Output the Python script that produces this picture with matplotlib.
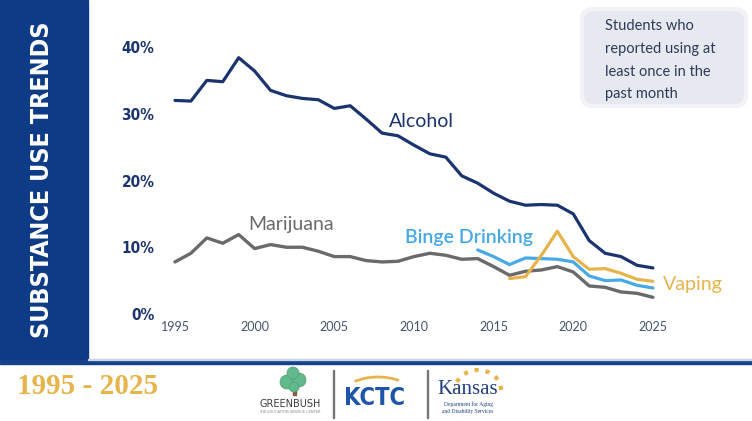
import matplotlib
matplotlib.use('Agg')
import matplotlib.pyplot as plt
from matplotlib import font_manager
from matplotlib.patches import Rectangle, FancyBboxPatch, Circle, Arc

# data (% of students, past-month use)
years = list(range(1995, 2026))
alcohol = [32.0, 31.9, 35.0, 34.8, 38.4, 36.4, 33.5, 32.7, 32.3, 32.1, 30.8,
           31.2, 29.2, 27.1, 26.7, 25.3, 24.0, 23.5, 20.7, 19.6, 18.1, 16.9,
           16.3, 16.4, 16.3, 15.0, 11.0, 9.1, 8.6, 7.3, 6.9]
marijuana = [7.8, 9.1, 11.4, 10.6, 11.9, 9.8, 10.4, 10.0, 10.0, 9.4, 8.6,
             8.6, 8.0, 7.8, 7.9, 8.6, 9.1, 8.8, 8.2, 8.3, 7.1, 5.8,
             6.4, 6.6, 7.1, 6.3, 4.2, 4.0, 3.3, 3.1, 2.5]
binge_years = list(range(2014, 2026))
binge = [9.6, 8.6, 7.4, 8.4, 8.3, 8.2, 7.8, 5.7, 5.0, 5.1, 4.3, 3.9]
vaping_years = list(range(2016, 2026))
vaping = [5.3, 5.6, 8.8, 12.4, 8.6, 6.7, 6.8, 6.1, 5.2, 4.9]

x_ticks = [1995, 2000, 2005, 2010, 2015, 2020, 2025]
y_ticks = [0, 10, 20, 30, 40]

NAVY = '#1b336f'
GRAY = '#6a6a6a'
SKY = '#47a9e6'
GOLD = '#e7b44c'
BAND = '#0d3b85'

names = {f.name for f in font_manager.fontManager.ttflist}
if 'Liberation Sans Narrow' in names:
    cond = dict(family='Liberation Sans Narrow', weight='bold')
    title_size = 21
else:
    cond = dict(family='DejaVu Sans', stretch='condensed', weight='bold')
    title_size = 18
label_font = 'Lato'

W, H = 752, 421
fig = plt.figure(figsize=(W / 100, H / 100), dpi=100)
fig.patch.set_facecolor('white')
T = fig.dpi_scale_trans


def px(x, y):
    return x / 100, (H - y) / 100


# left band with vertical title and bottom rule
fig.add_artist(Rectangle(px(0, 361), 0.88, 3.61, transform=T, color=BAND, zorder=0))
fig.add_artist(Rectangle(px(0, 364), W / 100, 0.04, transform=T, color='#17408a', zorder=0))
fig.add_artist(Rectangle(px(88, 360), W / 100, 0.01, transform=T, color='#c9d6ea', zorder=0))
fig.text(*px(42, 180), 'SUBSTANCE USE TRENDS', transform=T, rotation=90,
         ha='center', va='center', color='white', fontsize=title_size, **cond)

# chart axes
ax = fig.add_axes([160 / W, (H - 318) / H, 520 / W, 288 / H])
ax.plot(years, alcohol, color=NAVY, lw=2.3, solid_joinstyle='round', solid_capstyle='round')
ax.plot(years, marijuana, color=GRAY, lw=2.4, solid_joinstyle='round', solid_capstyle='round')
ax.plot(binge_years, binge, color=SKY, lw=2.3, solid_joinstyle='round', solid_capstyle='round')
ax.plot(vaping_years, vaping, color=GOLD, lw=2.3, solid_joinstyle='round', solid_capstyle='round')
ax.set_xlim(1994.06, 2026.70)
ax.set_ylim(-0.60, 42.55)
ax.set_xticks(x_ticks)
ax.set_xticklabels([str(t) for t in x_ticks], family=label_font, fontsize=9, color='#46536f')
ax.set_yticks(y_ticks)
ax.set_yticklabels([f'{t}%' for t in y_ticks], color=NAVY, fontsize=11, **cond)
ax.tick_params(length=0)
ax.tick_params(axis='x', pad=2)
ax.tick_params(axis='y', pad=4)
for s in ax.spines.values():
    s.set_visible(False)
ax.patch.set_alpha(0)

ax.text(2008.43, 28.06, 'Alcohol', family=label_font, fontsize=14, color=NAVY, va='baseline')
ax.text(1999.62, 12.6, 'Marijuana', family=label_font, fontsize=14, color=GRAY, va='baseline')
ax.text(2009.44, 10.6, 'Binge Drinking', family=label_font, fontsize=14, color=SKY,
        va='baseline', weight='semibold')
ax.text(2025.65, 3.6, 'Vaping', family=label_font, fontsize=14, color=GOLD, va='baseline')

# note box
fig.add_artist(FancyBboxPatch(px(584, 104), 1.60, 0.93, transform=T,
                              boxstyle='round,pad=0.04,rounding_size=0.12',
                              fc='#f1f3f7', ec='none', zorder=1))
fig.add_artist(FancyBboxPatch(px(588, 100), 1.52, 0.85, transform=T,
                              boxstyle='round,pad=0.04,rounding_size=0.1',
                              fc='#e6e9f0', ec='none', zorder=1))
fig.text(*px(605, 19), 'Students who\nreported using at\nleast once in the\npast month',
         transform=T, family=label_font, fontsize=10.5, color='#2e3b57',
         va='top', ha='left', linespacing=1.8, zorder=2)

# footer
fig.text(*px(88, 386), '1995 - 2025', transform=T, family='Liberation Serif',
         weight='bold', fontsize=21, color=GOLD, ha='center', va='center')

# Greenbush
fig.add_artist(Rectangle(px(293, 395), 0.03, 0.08, transform=T, color='#8a5a3a'))
for cx, cy, r in [(287, 382, 7), (299, 380, 7), (293, 373, 6), (294, 387, 5)]:
    fig.add_artist(Circle(px(cx, cy), r / 100, transform=T, fc='#62b98b', ec='#4f9e74', lw=0.5))
fig.text(*px(290, 404), 'GREENBUSH', transform=T, fontsize=7, color='#3c3c3c',
         ha='center', va='center')
fig.text(*px(290, 412), 'THE EDUCATION SERVICE CENTER', transform=T, fontsize=2.6,
         color='#888888', ha='center', va='center')
fig.add_artist(Rectangle(px(333, 418), 0.01, 0.48, transform=T, color='#777777'))

# KCTC
fig.add_artist(Arc(px(378, 395), 0.70, 0.36, theta1=35, theta2=150, transform=T,
                   color=GOLD, lw=2))
fig.text(*px(374, 398), 'KCTC', transform=T, fontsize=17, color='#1f55a8',
         ha='center', va='center', **cond)
fig.add_artist(Rectangle(px(427, 418), 0.01, 0.48, transform=T, color='#777777'))

# Kansas
fig.add_artist(Arc(px(478, 390), 0.46, 0.40, theta1=0, theta2=180, transform=T,
                   color=GOLD, lw=3, ls=':'))
fig.text(*px(468, 390), 'Kansas', transform=T, family='Liberation Serif', fontsize=15,
         color='#22407f', ha='center', va='center')
fig.text(*px(468, 404), 'Department for Aging', transform=T, family='Liberation Serif',
         fontsize=4, color='#22407f', ha='center', va='center')
fig.text(*px(468, 411), 'and Disability Services', transform=T, family='Liberation Serif',
         fontsize=4, color='#22407f', ha='center', va='center')

fig.savefig('out.png', dpi=100)
